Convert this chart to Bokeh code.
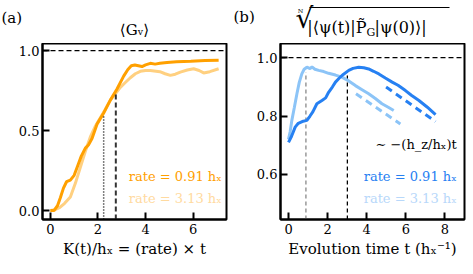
from bokeh.plotting import figure
from bokeh.layouts import row, column
from bokeh.models import FixedTicker, PrintfTickFormatter, Range1d, Label, Span
from bokeh.embed import file_html
from bokeh.resources import INLINE

# ---------------- data: panel (a) ----------------
a_dark_x = [0, 0.15, 0.3, 0.42, 0.55, 0.68, 0.84, 1.0, 1.15, 1.3, 1.47, 1.6, 1.75, 1.96, 2.24, 2.52,
            2.8, 3.08, 3.25, 3.4, 3.55, 3.7, 3.85, 4.0, 4.2, 4.4, 4.6, 4.9, 5.3, 5.9, 6.5, 7.07]
a_dark_y = [0, 0.0, 0.03, 0.08, 0.14, 0.18, 0.19, 0.22, 0.28, 0.34, 0.39, 0.41, 0.45, 0.54, 0.61, 0.69,
            0.76, 0.84, 0.88, 0.905, 0.91, 0.905, 0.90, 0.91, 0.92, 0.915, 0.92, 0.925, 0.93, 0.933, 0.937, 0.94]
a_light_x = [0, 0.2, 0.4, 0.6, 0.84, 1.05, 1.26, 1.47, 1.68, 1.9, 2.1, 2.3, 2.52, 2.73, 2.94, 3.15, 3.36,
             3.57, 3.78, 4.0, 4.2, 4.6, 4.82, 5.04, 5.25, 5.46, 5.75, 6.02, 6.25, 6.44, 6.7, 7.07]
a_light_y = [0, 0.005, 0.02, 0.045, 0.085, 0.17, 0.27, 0.37, 0.46, 0.53, 0.58, 0.63, 0.69, 0.73, 0.77, 0.80, 0.83,
             0.855, 0.87, 0.875, 0.875, 0.868, 0.855, 0.845, 0.852, 0.865, 0.878, 0.886, 0.875, 0.86, 0.868, 0.886]
a_vline_x = [2.24, 2.75]
a_vline_top = [0.59, 0.73]
a_xticks = [0, 2, 4, 6]
a_yticks = [0.0, 0.5, 1.0]

# ---------------- data: panel (b) ----------------
b_dark_x = [0, 0.15, 0.34, 0.5, 0.7, 0.94, 1.1, 1.25, 1.45, 1.71, 1.9, 2.05, 2.25, 2.4, 2.6, 2.8, 3.08, 3.3,
            3.59, 3.85, 4.10, 4.35, 4.62, 4.95, 5.3, 5.6, 5.98, 6.3, 6.67, 7.1, 7.52]
b_dark_y = [0.71, 0.73, 0.762, 0.775, 0.781, 0.785, 0.80, 0.815, 0.842, 0.853, 0.862, 0.881, 0.90, 0.916, 0.93,
            0.942, 0.956, 0.963, 0.967, 0.965, 0.961, 0.953, 0.944, 0.93, 0.916, 0.905, 0.887, 0.87, 0.853, 0.83, 0.805]
b_dark_fit_x = [4.99, 7.52]
b_dark_fit_y = [0.899, 0.781]
b_light_x = [0, 0.08, 0.17, 0.3, 0.43, 0.55, 0.68, 0.8, 0.94, 1.1, 1.2, 1.35, 1.54, 1.8, 2.05, 2.4, 2.73,
             3.08, 3.42, 3.76, 4.10, 4.44, 4.78, 5.1, 5.38]
b_light_y = [0.72, 0.745, 0.785, 0.83, 0.876, 0.915, 0.944, 0.96, 0.967, 0.962, 0.968, 0.96, 0.956, 0.952,
             0.946, 0.94, 0.933, 0.92, 0.904, 0.89, 0.876, 0.86, 0.842, 0.83, 0.819]
b_light_fit_x = [3.45, 5.72]
b_light_fit_y = [0.876, 0.773]
b_vline_x = [0.89, 3.01]
b_vline_top = [0.95, 0.944]
b_xticks = [0, 2, 4, 6, 8]
b_yticks = [0.6, 0.8, 1.0]

FONT = "DejaVu Serif"
ORANGE = "#ffa000"
ORANGE_L = "#ffd080"
ORANGE_T = "#ffdaa0"
BLUE = "#2680f2"
BLUE_L = "#8cc4f7"
BLUE_T = "#b8d8fa"


def style(p, xticks, yticks, yfmt):
    p.xaxis.ticker = FixedTicker(ticks=xticks)
    p.yaxis.ticker = FixedTicker(ticks=yticks)
    p.yaxis.formatter = PrintfTickFormatter(format=yfmt)
    p.xgrid.visible = False
    p.ygrid.visible = False
    p.outline_line_color = "black"
    p.outline_line_width = 2
    p.outline_line_alpha = 1
    for ax in (p.xaxis, p.yaxis):
        ax.axis_line_width = 2
        ax.major_tick_in = 7
        ax.major_tick_out = 0
        ax.major_tick_line_width = 2
        ax.minor_tick_line_color = None
        ax.major_label_text_font = FONT
        ax.major_label_text_font_size = "13px"
        ax.major_label_text_color = "black"
        ax.axis_label_text_font = FONT
        ax.axis_label_text_font_size = "15px"
        ax.axis_label_text_font_style = "normal"
        ax.axis_label_text_color = "black"
    p.xaxis.major_label_standoff = 4
    p.yaxis.major_label_standoff = 3
    p.xaxis.axis_label_standoff = 3


def lab(p, x, y, text, size, align="left", color="black"):
    p.add_layout(Label(x=x, y=y, text=text, text_color=color, text_font=FONT, text_font_size=size,
                       text_align=align, text_baseline="middle"))


# ---------------- title strip ----------------
top = figure(width=473, height=43, output_backend="svg", toolbar_location=None,
             x_range=Range1d(0, 473), y_range=Range1d(0, 43), x_axis_type=None, y_axis_type=None,
             min_border_left=0, min_border_right=0, min_border_top=0, min_border_bottom=0)
top.outline_line_color = None
top.xgrid.visible = False
top.ygrid.visible = False
lab(top, 1, 26, "(a)", "15px")
lab(top, 134, 14, "⟨Gᵥ⟩", "15px", "center")
lab(top, 233, 27, "(b)", "15px")
lab(top, 300, 31, "ᴺ", "10px", "center")
lab(top, 304, 25, "√", "28px", "center")
lab(top, 366, 16, "|⟨ψ(t)|P̃", "16px", "right")
lab(top, 366, 11, "G", "11px", "left")
lab(top, 374, 16, "|ψ(0)⟩|", "16px", "left")
top.segment(x0=[309], y0=[36], x1=[449], y1=[36], line_color="black", line_width=1)

# ---------------- panel (a) ----------------
pa = figure(width=230, height=231, output_backend="svg", toolbar_location=None,
            x_range=Range1d(-0.33, 7.4), y_range=Range1d(-0.056, 1.044),
            min_border_left=42, min_border_right=4, min_border_top=0, min_border_bottom=55)
style(pa, a_xticks, a_yticks, "%.1f")
pa.xaxis.axis_label = "K(t)/hₓ = (rate) × t"
pa.add_layout(Span(location=1.0, dimension="width", line_color="black", line_width=1.3, line_dash="5 3"))
pa.line(a_light_x, a_light_y, line_color=ORANGE_L, line_width=3)
pa.line(a_dark_x, a_dark_y, line_color=ORANGE, line_width=3)
pa.segment(x0=a_vline_x[0], y0=-0.056, x1=a_vline_x[0], y1=a_vline_top[0], line_color="black",
           line_width=1.5, line_dash="1 2")
pa.segment(x0=a_vline_x[1], y0=-0.056, x1=a_vline_x[1], y1=a_vline_top[1], line_color="#333333",
           line_width=2, line_dash="5 3")
lab(pa, 7.2, 0.21, "rate = 0.91 hₓ", "13px", "right", ORANGE)
lab(pa, 7.2, 0.075, "rate = 3.13 hₓ", "13px", "right", ORANGE_T)

# ---------------- panel (b) ----------------
pb = figure(width=243, height=231, output_backend="svg", toolbar_location=None,
            x_range=Range1d(-0.41, 9.0), y_range=Range1d(0.446, 1.048),
            min_border_left=50, min_border_right=9, min_border_top=0, min_border_bottom=55)
style(pb, b_xticks, b_yticks, "%.1f")
pb.xaxis.axis_label = "Evolution time t (hₓ⁻¹)"
pb.add_layout(Span(location=1.0, dimension="width", line_color="black", line_width=1.3, line_dash="5 3"))
pb.segment(x0=b_vline_x[0], y0=0.446, x1=b_vline_x[0], y1=b_vline_top[0], line_color="#888888",
           line_width=1.3, line_dash="4 3")
pb.segment(x0=b_vline_x[1], y0=0.446, x1=b_vline_x[1], y1=b_vline_top[1], line_color="black",
           line_width=1.3, line_dash="4 3")
pb.line(b_light_x, b_light_y, line_color=BLUE_L, line_width=3)
pb.line(b_light_fit_x, b_light_fit_y, line_color=BLUE_L, line_width=3, line_dash="7 5")
pb.line(b_dark_x, b_dark_y, line_color=BLUE, line_width=3)
pb.line(b_dark_fit_x, b_dark_fit_y, line_color=BLUE, line_width=3, line_dash="7 5")
lab(pb, 8.6, 0.703, "∼ −(h_z/hₓ)t", "13px", "right")
lab(pb, 8.6, 0.593, "rate = 0.91 hₓ", "13px", "right", BLUE)
lab(pb, 8.6, 0.518, "rate = 3.13 hₓ", "13px", "right", BLUE_T)

layout = column(top, row(pa, pb, spacing=0), spacing=0)
open("out.html", "w").write(file_html(layout, INLINE))
